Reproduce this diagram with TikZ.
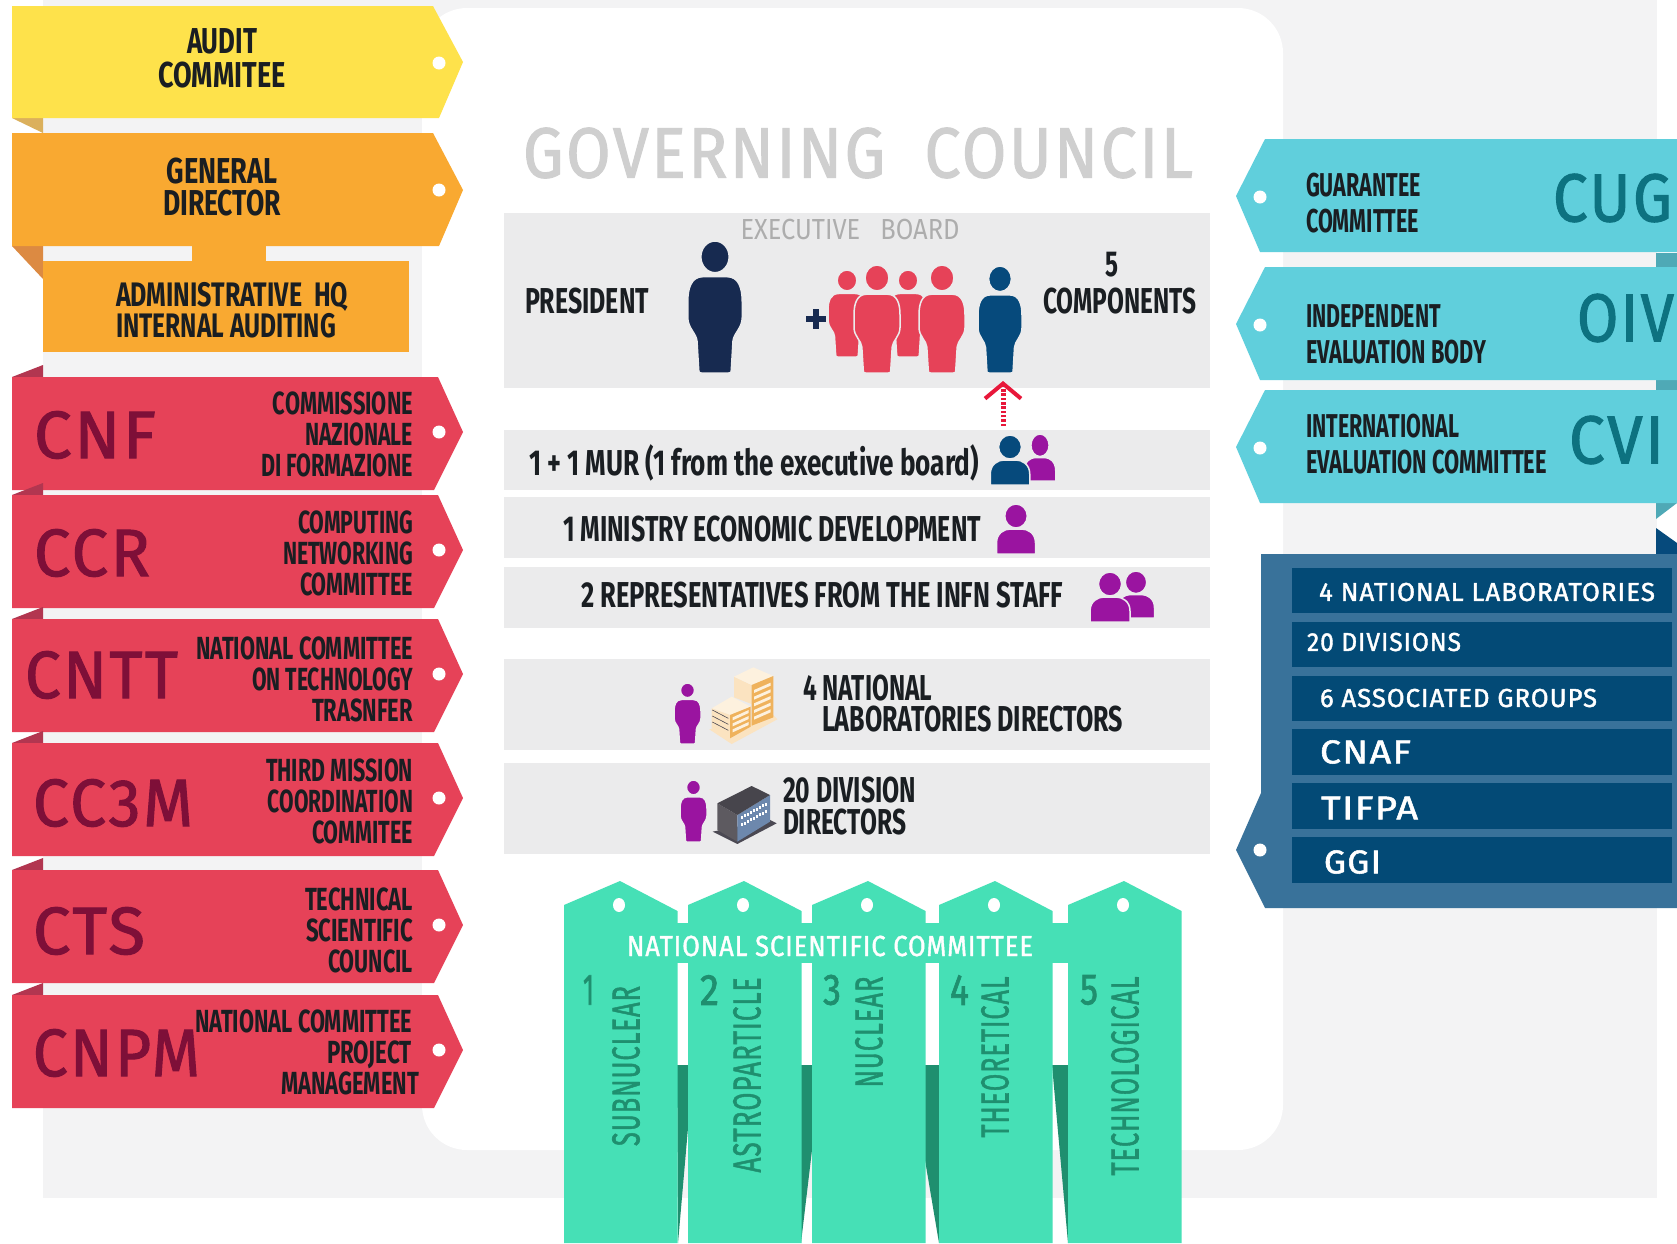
\documentclass[tikz,border=0pt]{standalone}
\usepackage{fontspec}
\usepackage{graphicx}
\usetikzlibrary{arrows.meta}
\newfontfamily\din{Fira Sans}
\newfontfamily\dinm[FakeBold=1.6, LetterSpace=4]{Fira Sans}
\definecolor{bgrey}{HTML}{F3F3F4}
\definecolor{boxgrey}{HTML}{EBEBEC}
\definecolor{tagyellow}{HTML}{FEE24B}
\definecolor{tagorange}{HTML}{F9A931}
\definecolor{foldyellow}{HTML}{DBB05C}
\definecolor{foldorange}{HTML}{DC8A42}
\definecolor{tagred}{HTML}{E64258}
\definecolor{wine}{HTML}{7E0F38}
\definecolor{foldred}{HTML}{B23650}
\definecolor{mint}{HTML}{46E0B6}
\definecolor{mintdark}{HTML}{1F8F6F}
\definecolor{tagcyan}{HTML}{60CFDC}
\definecolor{foldcyan}{HTML}{4FA9B6}
\definecolor{cyantext}{HTML}{0D7280}
\definecolor{panelblue}{HTML}{39729A}
\definecolor{rowblue}{HTML}{034A76}
\definecolor{navy}{HTML}{172A50}
\definecolor{darkblue}{HTML}{064A7C}
\definecolor{purple}{HTML}{9A14A0}
\definecolor{ink}{HTML}{1A1E22}
\definecolor{arrowred}{HTML}{E8173A}
\definecolor{bricklight}{HTML}{FBE3C0}
\definecolor{brickpale}{HTML}{FDF1DE}
\definecolor{brickface}{HTML}{EFB25C}
\definecolor{slatetop}{HTML}{47454C}
\definecolor{slateside}{HTML}{5D5A60}
\definecolor{slatefront}{HTML}{6D88AD}
\definecolor{slatebase}{HTML}{4B4953}
\tikzset{
    every node/.style={inner sep=0pt, outer sep=0pt},
    label/.style={font=\din\bfseries\fontsize{#1}{#1}\selectfont, text=ink},
    label/.default=36,
    stack/.style={font=\din\bfseries\fontsize{32}{31}\selectfont, text=ink, align=right, anchor=east},
    bigcode/.style={font=\dinm\fontsize{67}{67}\selectfont, text=wine, anchor=west},
    rightcode/.style={font=\dinm\fontsize{68}{68}\selectfont, text=cyantext, anchor=west},
    rowtext/.style={font=\dinm\fontsize{26}{26}\selectfont, text=white, anchor=west},
    rowbig/.style={rowtext, font=\dinm\fontsize{33}{33}\selectfont},
    longtext/.style={font=\dinm\fontsize{39}{39}\selectfont, text=mintdark, rotate=90},
    digit/.style={font=\dinm\fontsize{44}{44}\selectfont, text=mintdark, anchor=west},
    infobox/.style={fill=boxgrey},
    figure/.style={fill=#1, draw=boxgrey, line width=1.5},
    hole/.style={fill=white}
}
% stretch a line of text to a given width in px
\newcommand{\fit}[2]{\resizebox{#1pt}{\height}{#2}}
% tag pointing right, argument top
\newcommand{\redtag}[1]{
    \fill[foldred] (12,#1) -- (43,#1-12) -- (43,#1) -- cycle;
    \fill[tagred] (12,#1) -- (438,#1) -- (463,#1+55) -- (434,#1+113) -- (12,#1+113) -- cycle;
    \fill[hole] (439,#1+55) circle (6.5);
}
% tag pointing left
\newcommand{\cyantag}[1]{
    \fill[tagcyan] (1677,#1) -- (1265,#1) -- (1236,#1+57) -- (1260,#1+113) -- (1677,#1+113) -- cycle;
    \fill[hole] (1260,#1+58) circle (6.5);
}
% whole figure: centre x, top y, width, height, colour
\newcommand{\person}[5]{
    \begin{scope}[shift={(#1,#2)}, x=#3pt, y=-#4pt]
        \filldraw[figure=#5] (0,.12) ellipse [x radius=.26, y radius=.12];
        \filldraw[figure=#5] (-.22,.27) -- (.22,.27) .. controls (.44,.27) and (.5,.36) .. (.5,.46) -- (.5,.58)
            .. controls (.5,.66) and (.34,.7) .. (.33,.76) -- (.3,.97) .. controls (.3,1) and (.28,1) .. (.25,1)
            -- (-.25,1) .. controls (-.28,1) and (-.3,1) .. (-.3,.97) -- (-.33,.76)
            .. controls (-.34,.7) and (-.5,.66) .. (-.5,.58) -- (-.5,.46) .. controls (-.5,.36) and (-.44,.27) .. (-.22,.27) -- cycle;
    \end{scope}
}
% head and shoulders: centre x, top y, width, height, colour
\newcommand{\bust}[5]{
    \begin{scope}[shift={(#1,#2)}, x=#3pt, y=-#4pt]
        \filldraw[figure=#5] (0,.24) ellipse [x radius=.29, y radius=.24];
        \filldraw[figure=#5] (-.5,1) -- (-.5,.78) .. controls (-.5,.58) and (-.3,.5) .. (-.15,.5) -- (.15,.5)
            .. controls (.3,.5) and (.5,.58) .. (.5,.78) -- (.5,1) -- cycle;
    \end{scope}
}
\begin{document}
\begin{tikzpicture}[x=1pt, y=-1pt]
    \useasboundingbox (0,0) rectangle (1677,1243);
    \fill[white] (0,0) rectangle (1677,1243);
    \fill[bgrey] (43,0) rectangle (1657,1198);
    \fill[white, rounded corners=45] (422,8) rectangle (1283,1150);

    % left column
    \fill[foldyellow] (12,118) -- (43,118) -- (43,133) -- cycle;
    \fill[tagyellow] (12,6) -- (433,6) -- (463,62) -- (439,118) -- (12,118) -- cycle;
    \fill[hole] (439,63) circle (6.5);
    \fill[foldorange] (12,246) -- (43,246) -- (43,279) -- cycle;
    \fill[tagorange] (192,240) rectangle (266,265);
    \fill[tagorange] (12,133) -- (433,133) -- (463,190) -- (439,246) -- (12,246) -- cycle;
    \fill[hole] (439,190) circle (6.5);
    \fill[tagorange] (43,261) rectangle (409,352);
    \node[label, align=center] (audit) at (222,58) {\fit{70}{AUDIT}\\[-2pt]\fit{127}{COMMITEE}};
    \node[label, align=center] (director) at (222,187) {\fit{111}{GENERAL}\\[-4pt]\fit{118}{DIRECTOR}};
    \node[label=34, align=left, anchor=west] (hq) at (116,310) {\fit{232}{ADMINISTRATIVE~~HQ}\\[-3pt]\fit{220}{INTERNAL AUDITING}};

    \redtag{377} \redtag{495} \redtag{619} \redtag{743} \redtag{870} \redtag{995}
    \node[bigcode] (cnf) at (34,435) {\fit{122}{CNF}};
    \node[bigcode] (ccr) at (34,553) {\fit{116}{CCR}};
    \node[bigcode] (cntt) at (25,675) {\fit{153}{CNTT}};
    \node[bigcode] (cc3m) at (33,803) {\fit{160}{CC3M}};
    \node[bigcode] (cts) at (33,931) {\fit{112}{CTS}};
    \node[bigcode] (cnpm) at (33,1053) {\fit{167}{CNPM}};
    \node[stack] (cnftext) at (413,434) {\fit{140}{COMMISSIONE}\\\fit{108}{NAZIONALE}\\\fit{152}{DI FORMAZIONE}};
    \node[stack] (ccrtext) at (413,553) {\fit{115}{COMPUTING}\\\fit{130}{NETWORKING}\\\fit{113}{COMMITTEE}};
    \node[stack] (cntttext) at (413,679) {\fit{217}{NATIONAL COMMITTEE}\\\fit{161}{ON TECHNOLOGY}\\\fit{101}{TRASNFER}};
    \node[stack] (cc3mtext) at (413,801) {\fit{147}{THIRD MISSION}\\\fit{145}{COORDINATION}\\\fit{101}{COMMITEE}};
    \node[stack] (ctstext) at (413,930) {\fit{108}{TECHNICAL}\\\fit{107}{SCIENTIFIC}\\\fit{85}{COUNCIL}};
    \node[stack, align=left, anchor=west] (cnpmtext) at (195,1052) {\fit{217}{NATIONAL COMMITTEE}\\\hspace*{132pt}\fit{85}{PROJECT}\\\hspace*{86pt}\fit{138}{MANAGEMENT}};

    % centre column
    \node[font=\dinm\fontsize{71}{71}\selectfont, text=black!19] (council) at (858,153) {\fit{670}{GOVERNING~~COUNCIL}};
    \fill[infobox] (504,213) rectangle (1210,388);
    \fill[infobox] (504,430) rectangle (1210,490);
    \fill[infobox] (504,497) rectangle (1210,558);
    \fill[infobox] (504,567) rectangle (1210,628);
    \fill[infobox] (504,659) rectangle (1210,750);
    \fill[infobox] (504,763) rectangle (1210,854);
    \node[font=\din\fontsize{29}{29}\selectfont, text=black!32] (board) at (850,230) {\fit{219}{EXECUTIVE~~~BOARD}};
    \node[label, anchor=west] (president) at (525,301) {\fit{124}{PRESIDENT}};
    \node[label] (five) at (1112,265) {\fit{13}{5}};
    \node[label, anchor=west] (components) at (1043,301) {\fit{153}{COMPONENTS}};
    \node[label, anchor=west] (mur) at (529,463) {\fit{450}{1 + 1 MUR (1 from the executive board)}};
    \node[label, anchor=west] (ministry) at (563,529) {\fit{418}{1 MINISTRY ECONOMIC DEVELOPMENT}};
    \node[label, anchor=west] (staff) at (581,595) {\fit{482}{2 REPRESENTATIVES FROM THE INFN STAFF}};
    \node[label, anchor=west] (labs) at (803,688) {\fit{129}{4 NATIONAL}};
    \node[label, anchor=west] (labsb) at (822,719) {\fit{301}{LABORATORIES DIRECTORS}};
    \node[label, anchor=west] (divs) at (783,790) {\fit{133}{20 DIVISION}};
    \node[label, anchor=west] (divsb) at (783,822) {\fit{123}{DIRECTORS}};

    \person{715}{241}{54.5}{132}{navy}
    \fill[navy] (806,316) rectangle (826,322);
    \fill[navy] (813,309) rectangle (819,329);
    \person{847}{270}{38}{87}{tagred}
    \person{908}{270}{38}{87}{tagred}
    \person{877}{265}{46}{108}{tagred}
    \person{942}{265}{46}{108}{tagred}
    \person{1000}{266}{44}{107}{darkblue}
    \bust{1040}{434}{31.5}{47}{purple}
    \bust{1010}{435}{39.5}{50}{darkblue}
    \bust{1016}{504}{39}{50}{purple}
    \bust{1136}{571}{37}{47}{purple}
    \bust{1110}{572}{40}{50}{purple}
    \person{687.5}{683}{27}{61}{purple}
    \person{693.5}{780}{27}{62}{purple}

    % arrow up to the board member
    \coordinate (murtop) at (1003,426);
    \coordinate (boardmember) at (1003,381);
    \draw[arrowred, line width=5, dash pattern=on 2.5 off 1.8, -{Straight Barb[length=15, width=36, line width=4]}] (murtop) -- (boardmember);

    % building of the laboratories
    \begin{scope}[shift={(660,660)}, x=.3333pt, y=-.3333pt]
        \fill[bricklight] (148,208) -- (215,252) -- (352,178) -- (340,165) -- cycle;
        \fill[bricklight] (222,50) -- (222,112) -- (275,132) -- (275,75) -- cycle;
        \fill[brickpale] (222,50) -- (280,22) -- (340,48) -- (275,75) -- cycle;
        \fill[brickface] (275,75) -- (340,48) -- (340,172) -- (275,197) -- cycle;
        \fill[brickpale] (155,145) -- (215,110) -- (272,140) -- (210,165) -- cycle;
        \fill[bricklight] (155,145) -- (155,205) -- (210,235) -- (210,165) -- cycle;
        \fill[brickface] (210,165) -- (272,140) -- (272,200) -- (210,235) -- cycle;
        \foreach \s in {0,1,2} {
            \draw[slatebase, line width=.6] (157,150+\s*18) -- (205,175+\s*18);
            \fill[brickpale] (218,172+\s*18) -- (266,150+\s*18) -- (266,159+\s*18) -- (218,181+\s*18) -- cycle;
        }
        \foreach \s in {0,1,2,3,4} {
            \fill[brickpale] (282,90+\s*20) -- (332,68+\s*20) -- (332,77+\s*20) -- (282,99+\s*20) -- cycle;
        }
    \end{scope}
    % building of the divisions
    \begin{scope}[shift={(660,660)}, x=.3333pt, y=-.3333pt]
        \fill[slatebase] (158,515) -- (232,552) -- (350,490) -- (330,480) -- cycle;
        \fill[slateside] (172,430) -- (172,510) -- (232,545) -- (232,465) -- cycle;
        \fill[slatefront] (232,465) -- (330,405) -- (330,485) -- (232,545) -- cycle;
        \fill[slatetop] (172,430) -- (275,378) -- (330,405) -- (232,465) -- cycle;
        \foreach \i in {0,...,8} {
            \fill[white] (243+\i*9,468-\i*5) rectangle +(5,9);
            \fill[white] (243+\i*9,490-\i*5) rectangle +(5,9);
        }
    \end{scope}

    % scientific committees
    \fill[mint] (564,923) rectangle (1181,963);
    \fill[mintdark] (677,1065) -- (688,1065) -- (688,1128) -- (678,1243) -- cycle;
    \fill[mintdark] (801,1065) -- (812,1065) -- (812,1150) -- (801,1243) -- cycle;
    \fill[mintdark] (925,1065) -- (939,1065) -- (939,1243) -- (925,1160) -- cycle;
    \fill[mintdark] (1052,1065) -- (1068,1065) -- (1068,1243) -- cycle;
    \foreach \x/\a in {564/620, 688/744, 812/868, 939/995, 1068/1124} {
        \fill[mint] (\x,905) -- (\a,881) -- (\x+113.5,911) -- (\x+113.5,1243) -- (\x,1243) -- cycle;
        \fill[hole] (\a-1,905) ellipse [x radius=6, y radius=7];
    }
    \node[font=\dinm\fontsize{29}{29}\selectfont, text=white] (scientific) at (830,946) {\fit{406}{NATIONAL SCIENTIFIC COMMITTEE}};
    \node[digit] (one) at (583,990) {\fit{11}{1}};
    \node[digit] (two) at (700,990) {\fit{19}{2}};
    \node[digit] (three) at (823,990) {\fit{18}{3}};
    \node[digit] (four) at (950,990) {\fit{19}{4}};
    \node[digit] (fiveb) at (1080,990) {\fit{18}{5}};
    \node[longtext] (subnuclear) at (626,1066) {\fit{160}{SUBNUCLEAR}};
    \node[longtext] (astro) at (747,1075) {\fit{195}{ASTROPARTICLE}};
    \node[longtext] (nuclear) at (869,1032) {\fit{111}{NUCLEAR}};
    \node[longtext] (theoretical) at (995,1057) {\fit{161}{THEORETICAL}};
    \node[longtext] (techno) at (1125,1076) {\fit{199}{TECHNOLOGICAL}};

    % right column
    \fill[foldcyan] (1656,253) rectangle (1677,267);
    \fill[foldcyan] (1656,379) rectangle (1677,391);
    \fill[foldcyan] (1656,503) -- (1677,503) -- (1656,519) -- cycle;
    \fill[darkblue] (1656,528) -- (1677,543) -- (1677,554) -- (1656,554) -- cycle;
    \cyantag{139} \cyantag{267} \cyantag{390}
    \node[label=33, align=left, anchor=west] (cug) at (1306,203) {\fit{115}{GUARANTEE}\\[3pt]\fit{113}{COMMITTEE}};
    \node[label=33, align=left, anchor=west] (oiv) at (1306,334) {\fit{135}{INDEPENDENT}\\[3pt]\fit{180}{EVALUATION BODY}};
    \node[label=33, align=left, anchor=west] (cvi) at (1306,444) {\fit{153}{INTERNATIONAL}\\[3pt]\fit{241}{EVALUATION COMMITTEE}};
    \node[rightcode] (cugcode) at (1553,198) {\fit{119}{CUG}};
    \node[rightcode] (oivcode) at (1577,318) {\fit{97}{OIV}};
    \node[rightcode] (cvicode) at (1569,440) {\fit{95}{CVI}};

    \fill[panelblue] (1677,554) -- (1261,554) -- (1261,793) -- (1236,850) -- (1265,908) -- (1677,908) -- cycle;
    \fill[hole] (1260,850) circle (6.5);
    \foreach \t/\b in {568/613, 622/667, 676/721, 729/775, 783/829, 837/883} {
        \fill[rowblue] (1292,\t) rectangle (1672,\b);
    }
    \node[rowtext] (nlabs) at (1319,592) {\fit{336}{4 NATIONAL LABORATORIES}};
    \node[rowtext] (ndivs) at (1307,642) {\fit{154}{20 DIVISIONS}};
    \node[rowtext] (ngroups) at (1320,698) {\fit{277}{6 ASSOCIATED GROUPS}};
    \node[rowbig] (cnaf) at (1320,752) {\fit{91}{CNAF}};
    \node[rowbig] (tifpa) at (1321,808) {\fit{97}{TIFPA}};
    \node[rowbig] (ggi) at (1324,862) {\fit{57}{GGI}};
\end{tikzpicture}
\end{document}
